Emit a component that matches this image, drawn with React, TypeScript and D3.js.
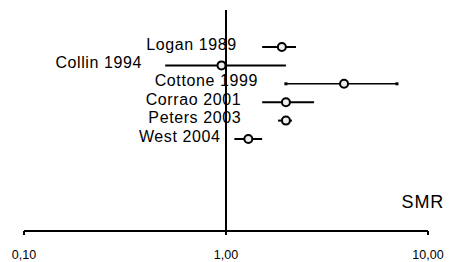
import React from "react";
import * as d3 from "d3";

const studies = ["Logan 1989", "Collin 1994", "Cottone 1999", "Corrao 2001", "Peters 2003", "West 2004"];
const smr = [1.89, 0.95, 3.84, 1.98, 1.98, 1.29];
const ciLow = [1.51, 0.5, 1.98, 1.51, 1.81, 1.1];
const ciHigh = [2.22, 1.98, 7.02, 2.73, 2.12, 1.51];
// SMR value at which each study label ends (labels are right-aligned)
const labelAnchor = [1.13, 0.384, 1.44, 1.19, 1.19, 0.94];
const endMarkers = [false, false, true, false, false, false];
const tickValues = [0.1, 1, 10];
const tickLabels = ["0,10", "1,00", "10,00"];
const axisTitle = "SMR";

const W = 449;
const H = 262;

export default function App() {
  const x = d3.scaleLog().domain([0.1, 10]).range([24, 428]);
  const y = d3.scalePoint<string>().domain(studies).range([47, 139]);
  const axisY = 231;
  const font = "'Liberation Sans', Arial, sans-serif";

  return (
    <svg
      width={W}
      height={H}
      style={{ position: "absolute", left: 0, top: 0, background: "#fff" }}
      fontFamily={font}
    >
      <rect x={0} y={0} width={W} height={H} fill="#fff" />
      {/* reference line at SMR = 1 */}
      <line x1={x(1)} x2={x(1)} y1={10} y2={axisY} stroke="#000" strokeWidth={2} />
      {/* x axis */}
      <line x1={x(0.1)} x2={x(10)} y1={axisY} y2={axisY} stroke="#000" strokeWidth={2} />
      {tickValues.map((t, i) => (
        <g key={t}>
          <line x1={x(t)} x2={x(t)} y1={axisY} y2={axisY + 4} stroke="#000" strokeWidth={2} />
          <text x={x(t)} y={259} textAnchor="middle" fontSize={12.5} fill="#000">
            {tickLabels[i]}
          </text>
        </g>
      ))}
      <text x={444} y={208} textAnchor="end" fontSize={18} letterSpacing={0.8} fill="#000">
        {axisTitle}
      </text>
      {studies.map((s, i) => {
        const yy = y(s)!;
        return (
          <g key={s}>
            <text
              x={x(labelAnchor[i])}
              y={yy + 2.5}
              textAnchor="end"
              fontSize={16}
              letterSpacing={0.6}
              fill="#000"
            >
              {s}
            </text>
            <line
              x1={x(ciLow[i])}
              x2={x(ciHigh[i])}
              y1={yy}
              y2={yy}
              stroke="#000"
              strokeWidth={endMarkers[i] ? 1.5 : 2}
            />
            {endMarkers[i] && (
              <>
                <rect x={x(ciLow[i]) - 1.5} y={yy - 1.5} width={3} height={3} fill="#000" />
                <rect x={x(ciHigh[i]) - 1.5} y={yy - 1.5} width={3} height={3} fill="#000" />
              </>
            )}
            <circle cx={x(smr[i])} cy={yy} r={4} fill="#eee" stroke="#000" strokeWidth={2} />
          </g>
        );
      })}
    </svg>
  );
}
